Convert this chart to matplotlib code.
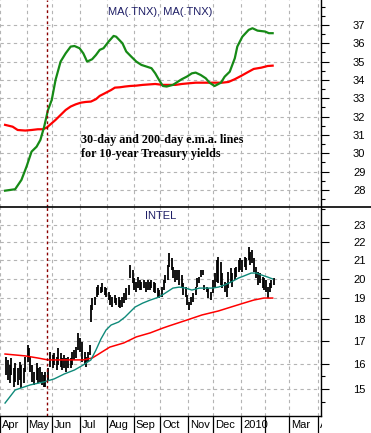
import matplotlib

matplotlib.use("Agg")
import matplotlib.pyplot as plt  # noqa: E402
import matplotlib.ticker as mticker  # noqa: E402
import numpy as np  # noqa: E402
from matplotlib.lines import Line2D  # noqa: E402
from matplotlib.transforms import Bbox, TransformedBbox, blended_transform_factory, offset_copy  # noqa: E402

# x axis = trading session number counted from 2009-04-01 (the chart skips weekends/holidays)
ORIGIN = "2009-04-01"
HOLIDAYS = ["2009-04-10", "2009-05-25", "2009-07-03", "2009-09-07", "2009-11-26", "2009-12-25",
            "2010-01-01", "2010-01-18", "2010-02-15", "2010-04-02"]
XLIM = (4.1, 254.3)

# 10-year Treasury yield (x10): 30-day and 200-day e.m.a.
tnx30_s = [4, 12, 17, 21, 25, 29, 32, 35, 38, 41, 44, 48, 52, 56, 59, 63, 66, 69, 73, 76, 79, 82,
           86, 90, 92, 97, 100, 104, 108, 112, 116, 120, 123, 126, 129, 132, 137, 141, 144, 148,
           152, 155, 159, 163, 166, 170, 175, 178, 182, 186, 188, 192, 197, 200, 204, 210, 213, 216]
tnx30 = [27.96, 28.04, 28.55, 29.27, 30.09, 30.36, 30.73, 31.45, 32.36, 32.91, 34.0, 35.0, 35.45,
         35.82, 35.85, 35.73, 35.45, 35.0, 35.13, 35.36, 35.64, 35.73, 36.09, 36.4, 36.36, 36.0,
         35.55, 35.27, 35.0, 34.82, 34.73, 34.64, 34.36, 34.0, 33.67, 33.64, 33.73, 33.91, 34.04,
         34.18, 34.36, 34.4, 34.27, 34.09, 33.85, 33.67, 33.85, 34.18, 34.45, 35.18, 35.82, 36.36,
         36.73, 36.82, 36.69, 36.64, 36.55, 36.55]
tnx200_s = [4, 10, 14, 20, 25, 30, 34, 37, 41, 44, 48, 52, 56, 60, 64, 68, 72, 76, 79, 83, 88, 91,
            95, 99, 103, 108, 113, 119, 123, 129, 134, 139, 144, 150, 155, 160, 165, 170, 176, 181,
            186, 191, 197, 201, 207, 212, 216]
tnx200 = [31.55, 31.45, 31.27, 31.24, 31.27, 31.31, 31.31, 31.4, 31.64, 31.82, 32.09, 32.36, 32.55,
          32.67, 32.76, 32.8, 32.82, 32.95, 33.13, 33.27, 33.45, 33.58, 33.6, 33.64, 33.67, 33.69,
          33.73, 33.76, 33.78, 33.73, 33.73, 33.73, 33.78, 33.82, 33.85, 33.85, 33.85, 33.85, 33.85,
          33.89, 34.04, 34.22, 34.45, 34.6, 34.67, 34.76, 34.78]

# Intel daily range (high / low)
intc_s = [5, 6, 8, 9, 11, 12, 14, 16, 17, 19, 20, 22, 23, 24, 25, 27, 29, 30, 32, 33, 35, 36, 38,
          40, 42, 43, 45, 46, 48, 49, 51, 52, 54, 56, 57, 59, 60, 62, 63, 65, 67, 68, 70, 71,
          72, 73, 75, 77, 78, 80, 81, 83, 84, 86, 87, 89, 91, 92, 94, 95, 97, 98, 100, 102, 103,
          105, 106, 108, 109, 111, 112, 114, 116, 117, 119, 120, 122, 123, 125, 126, 128, 130, 131,
          133, 134, 136, 137, 139, 140,
          142, 144, 145, 147, 148, 150, 151, 153, 155, 156, 158, 159, 161, 162, 164, 165, 167, 169,
          170, 172, 173, 175, 176, 178, 180, 181, 183, 184, 186, 187, 189, 190, 192, 194, 195, 197,
          198, 200, 201, 203, 204, 206, 208, 209, 211, 212, 214, 215, 217]
intc_high = [16.30, 16.18, 15.97, 16.26, 15.84, 16.05, 15.84, 16.09, 15.97, 15.84, 16.30, 16.82,
             16.69, 16.30, 15.97, 15.68, 16.05, 15.84, 15.88, 15.68, 15.56, 15.68, 15.84, 16.52,
             16.39, 16.47, 16.30, 16.69, 16.47, 16.26, 16.39, 16.26, 16.30, 16.26, 16.52, 16.60,
             16.73, 17.36, 17.13, 16.95, 16.52, 16.30, 16.52, 16.82,
             18.67, 19.01, 19.06, 19.56, 19.67, 19.56, 19.77, 19.56, 19.51, 19.31, 19.16, 19.06,
             19.16, 19.01, 19.06, 18.91, 19.06, 19.26, 19.51, 19.67, 20.72, 20.45, 20.03, 19.82,
             20.08, 19.92, 19.82, 19.92, 19.82, 19.92, 19.82, 19.92, 19.82, 19.77, 19.51, 19.41,
             19.56, 19.92, 20.19, 20.72, 21.38, 21.10, 20.61, 20.45, 20.45,
             20.45, 20.19, 19.77, 19.56, 19.16, 18.81, 19.06, 19.26, 19.56, 20.03, 20.08, 20.45,
             20.45, 19.67, 19.56, 19.51, 19.31, 19.92, 20.29, 20.99, 21.15, 20.88, 20.29, 19.82,
             19.77, 20.34, 20.56, 20.29, 20.56, 20.61, 20.99, 21.10, 20.99, 21.15, 21.10, 21.71,
             21.43, 21.54, 21.10, 20.61, 20.34, 20.29, 20.08, 20.03, 19.92, 19.56, 19.77, 19.92,
             20.03]
intc_low = [15.56, 15.36, 15.24, 15.56, 15.08, 15.28, 15.16, 15.36, 15.04, 15.24, 15.68, 16.09,
            16.26, 15.68, 15.28, 15.16, 15.36, 15.24, 15.28, 15.16, 15.08, 15.08, 15.36, 15.88,
            15.84, 15.97, 15.76, 15.97, 15.88, 15.76, 15.84, 15.68, 15.84, 15.84, 15.97, 16.18,
            16.26, 16.60, 16.52, 16.09, 15.97, 15.88, 16.09, 16.39,
            17.86, 18.43, 18.67, 19.06, 19.16, 19.26, 19.31, 19.16, 19.06, 18.91, 18.67, 18.57,
            18.77, 18.67, 18.57, 18.52, 18.57, 18.77, 18.91, 19.16, 20.03, 19.77, 19.41, 19.31,
            19.51, 19.41, 19.41, 19.51, 19.31, 19.41, 19.41, 19.51, 19.31, 19.26, 19.06, 19.01,
            19.06, 19.41, 19.77, 19.92, 20.61, 20.45, 20.03, 19.82, 19.92,
            19.67, 19.56, 19.16, 19.06, 18.67, 18.43, 18.67, 18.81, 19.16, 19.56, 19.77, 20.08,
            20.19, 19.41, 19.31, 19.01, 18.91, 19.26, 19.56, 19.82, 19.77, 19.67, 19.51, 19.31,
            19.06, 19.51, 19.77, 19.56, 19.92, 20.08, 20.34, 20.45, 20.34, 20.61, 20.45, 20.99,
            20.72, 20.83, 20.34, 20.03, 19.67, 19.77, 19.51, 19.41, 19.31, 19.01, 19.31, 19.51,
            19.67]

# Intel 50-day and 200-day averages
intc50_s = [4, 12, 24, 35, 43, 51, 59, 66, 72, 76, 80, 84, 88, 94, 99, 103, 107, 113, 119, 126,
            131, 137, 142, 147, 152, 158, 162, 168, 173, 178, 183, 189, 193, 199, 203, 207, 212, 216]
intc50 = [14.46, 14.96, 15.16, 15.28, 15.40, 15.60, 15.76, 15.97, 16.18, 16.60, 17.09, 17.49,
          17.72, 17.86, 18.09, 18.33, 18.57, 18.76, 18.91, 19.06, 19.26, 19.51, 19.56, 19.51, 19.41,
          19.51, 19.51, 19.51, 19.56, 19.67, 19.82, 20.03, 20.13, 20.29, 20.29, 20.19, 20.08, 19.98]
intc200_s = [4, 20, 30, 38, 51, 66, 73, 77, 82, 87, 98, 108, 119, 129, 134, 148, 160, 173, 183,
             193, 201, 209, 216]
intc200 = [16.43, 16.35, 16.26, 16.18, 16.18, 16.18, 16.26, 16.39, 16.56, 16.73, 16.91, 17.18,
           17.36, 17.58, 17.68, 17.95, 18.19, 18.38, 18.57, 18.76, 18.91, 19.01, 19.01]

marker_date = "2009-05-26"
month_starts = ["2009-04-01", "2009-05-01", "2009-06-01", "2009-07-01", "2009-08-03", "2009-09-01",
                "2009-10-01", "2009-11-02", "2009-12-01", "2010-01-04", "2010-02-01", "2010-03-01",
                "2010-04-01"]
month_labels = ["Apr", "May", "Jun", "Jul", "Aug", "Sep", "Oct", "Nov", "Dec", "2010", "", "Mar", "Apr"]

tnx_ticks = list(range(28, 38))
intc_ticks = list(range(15, 24))

NAVY = "#1e1e66"
GRID = dict(color="#b4b4b4", ls=(0, (3, 3)), lw=0.8)


def session(dates):
    return np.busday_count(ORIGIN, dates, holidays=HOLIDAYS)


month_x = session(month_starts)
marker_x = session(marker_date)

W, H = 371, 433
plt.rcParams["font.family"] = ["Liberation Sans", "DejaVu Sans"]
fig = plt.figure(figsize=(W / 100, H / 100), dpi=100)

split = 207
ax_top = fig.add_axes([0, 1 - split / H, 321 / W, split / H])
ax_bot = fig.add_axes([0, 17 / H, 321 / W, (416 - split) / H])

# --- top: TNX e.m.a. lines
ax_top.plot(tnx200_s, tnx200, color="#ff0000", lw=1.6)
ax_top.plot(tnx30_s, tnx30, color="#168a16", lw=1.6)
ax_top.set_ylim(27.07, 38.36)
ax_top.set_yticks(tnx_ticks)
ax_top.set_yticks([t + 0.5 for t in range(27, 38)] + [38], minor=True)
ax_top.text(0.5, 0.94, "MA(.TNX), MA(.TNX)", transform=ax_top.transAxes, ha="center", va="center",
            fontsize=8, color=NAVY)
ax_top.text(64, 30.35, "30-day and 200-day e.m.a. lines\nfor 10-year Treasury yields",
            family=["Liberation Serif", "DejaVu Serif"], weight="bold", fontsize=8.7,
            ha="left", va="center", linespacing=1.2)

# --- bottom: Intel price bars and averages
ax_bot.vlines(intc_s, intc_low, intc_high, color="black", lw=1.3)
ax_bot.plot(intc200_s, intc200, color="#ff0000", lw=1.1)
ax_bot.plot(intc50_s, intc50, color="#0f8a7a", lw=1.0)
ax_bot.set_yscale("log")
ax_bot.set_ylim(13.98, 24.1)
ax_bot.yaxis.set_major_locator(mticker.FixedLocator(intc_ticks))
ax_bot.yaxis.set_major_formatter(mticker.FixedFormatter([str(t) for t in intc_ticks]))
ax_bot.yaxis.set_minor_locator(mticker.FixedLocator([14.5, 15.5, 24]))
ax_bot.yaxis.set_minor_formatter(mticker.NullFormatter())
ax_bot.text(0.5, 0.955, "INTEL", transform=ax_bot.transAxes, ha="center", va="center",
            fontsize=8, color=NAVY)

for ax in (ax_top, ax_bot):
    ax.set_xlim(*XLIM)
    ax.set_xticks(month_x)
    ax.grid(True, which="major", **GRID)
    ax.axvline(marker_x, color="#8b0000", ls=(0, (2, 2)), lw=1.0)
    ax.yaxis.tick_right()
    ax.tick_params(axis="y", which="major", length=6, width=0.8, pad=17, labelsize=8)
    ax.tick_params(axis="y", which="minor", length=3, width=0.8)
    for lbl in ax.get_yticklabels():
        lbl.set_horizontalalignment("left")
    ax.spines["left"].set_visible(False)
    ax.spines["top"].set_visible(False)
    ax.spines["right"].set_linewidth(1.0)

ax_top.spines["bottom"].set_visible(False)
ax_top.tick_params(axis="x", length=0, labelbottom=False)
ax_bot.spines["bottom"].set_linewidth(1.0)
ax_bot.tick_params(axis="x", length=15, width=0.9, labelbottom=False)

# month names sit right of each separator; the chart clips them at the price-scale edge
label_clip = TransformedBbox(Bbox([[0, 0], [322 / W, 1]]), fig.transFigure)
trans = blended_transform_factory(ax_bot.transData, ax_bot.transAxes)
trans = offset_copy(trans, fig=fig, x=2, y=-9, units="dots")
for x, lab in zip(month_x, month_labels):
    t = ax_bot.text(x, 0, lab, transform=trans, ha="left", va="center", fontsize=8)
    t.set_clip_box(label_clip)
    t.set_clip_on(True)

# separator between the two panels, running under the price scale
fig.add_artist(Line2D([0, 1], [1 - split / H] * 2, transform=fig.transFigure, color="black", lw=1.2))

fig.savefig("out.png", dpi=100)
